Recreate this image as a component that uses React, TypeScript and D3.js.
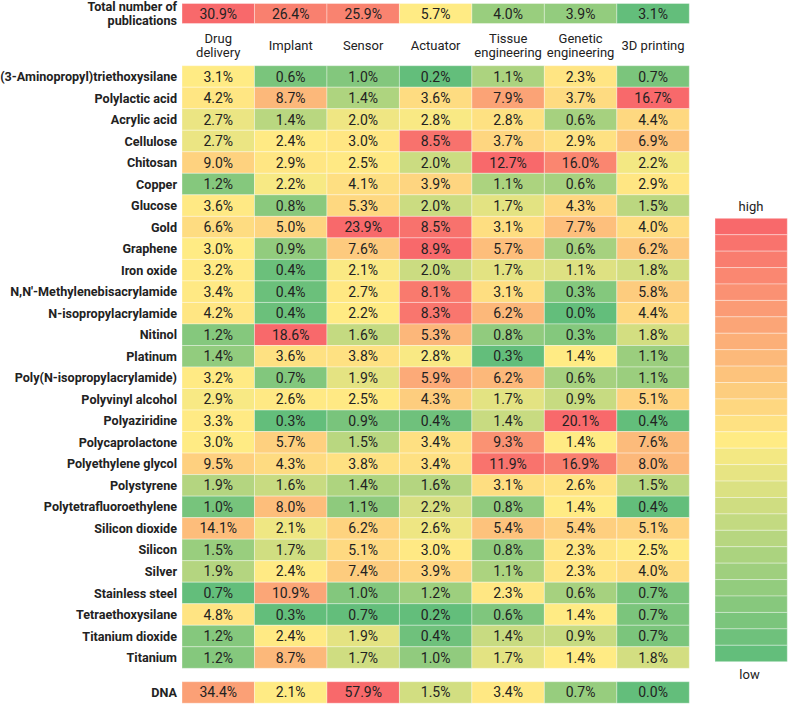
import React from "react";
import * as d3 from "d3";

const columns = ["Drug delivery", "Implant", "Sensor", "Actuator", "Tissue engineering", "Genetic engineering", "3D printing"];
const columnLabelLines = [["Drug", "delivery"], ["Implant"], ["Sensor"], ["Actuator"], ["Tissue", "engineering"], ["Genetic", "engineering"], ["3D printing"]];

const totalLabel = ["Total number of", "publications"];
const totalValues = [30.9, 26.4, 25.9, 5.7, 4.0, 3.9, 3.1];

const materials = [
  "(3-Aminopropyl)triethoxysilane", "Polylactic acid", "Acrylic acid", "Cellulose", "Chitosan", "Copper", "Glucose",
  "Gold", "Graphene", "Iron oxide", "N,N'-Methylenebisacrylamide", "N-isopropylacrylamide", "Nitinol", "Platinum",
  "Poly(N-isopropylacrylamide)", "Polyvinyl alcohol", "Polyaziridine", "Polycaprolactone", "Polyethylene glycol",
  "Polystyrene", "Polytetrafluoroethylene", "Silicon dioxide", "Silicon", "Silver", "Stainless steel",
  "Tetraethoxysilane", "Titanium dioxide", "Titanium",
];

const values: number[][] = [
  [3.1, 0.6, 1.0, 0.2, 1.1, 2.3, 0.7],
  [4.2, 8.7, 1.4, 3.6, 7.9, 3.7, 16.7],
  [2.7, 1.4, 2.0, 2.8, 2.8, 0.6, 4.4],
  [2.7, 2.4, 3.0, 8.5, 3.7, 2.9, 6.9],
  [9.0, 2.9, 2.5, 2.0, 12.7, 16.0, 2.2],
  [1.2, 2.2, 4.1, 3.9, 1.1, 0.6, 2.9],
  [3.6, 0.8, 5.3, 2.0, 1.7, 4.3, 1.5],
  [6.6, 5.0, 23.9, 8.5, 3.1, 7.7, 4.0],
  [3.0, 0.9, 7.6, 8.9, 5.7, 0.6, 6.2],
  [3.2, 0.4, 2.1, 2.0, 1.7, 1.1, 1.8],
  [3.4, 0.4, 2.7, 8.1, 3.1, 0.3, 5.8],
  [4.2, 0.4, 2.2, 8.3, 6.2, 0.0, 4.4],
  [1.2, 18.6, 1.6, 5.3, 0.8, 0.3, 1.8],
  [1.4, 3.6, 3.8, 2.8, 0.3, 1.4, 1.1],
  [3.2, 0.7, 1.9, 5.9, 6.2, 0.6, 1.1],
  [2.9, 2.6, 2.5, 4.3, 1.7, 0.9, 5.1],
  [3.3, 0.3, 0.9, 0.4, 1.4, 20.1, 0.4],
  [3.0, 5.7, 1.5, 3.4, 9.3, 1.4, 7.6],
  [9.5, 4.3, 3.8, 3.4, 11.9, 16.9, 8.0],
  [1.9, 1.6, 1.4, 1.6, 3.1, 2.6, 1.5],
  [1.0, 8.0, 1.1, 2.2, 0.8, 1.4, 0.4],
  [14.1, 2.1, 6.2, 2.6, 5.4, 5.4, 5.1],
  [1.5, 1.7, 5.1, 3.0, 0.8, 2.3, 2.5],
  [1.9, 2.4, 7.4, 3.9, 1.1, 2.3, 4.0],
  [0.7, 10.9, 1.0, 1.2, 2.3, 0.6, 0.7],
  [4.8, 0.3, 0.7, 0.2, 0.6, 1.4, 0.7],
  [1.2, 2.4, 1.9, 0.4, 1.4, 0.9, 0.7],
  [1.2, 8.7, 1.7, 1.0, 1.7, 1.4, 1.8],
];

const dnaLabel = "DNA";
const dnaValues = [34.4, 2.1, 57.9, 1.5, 3.4, 0.7, 0.0];
// whether the DNA value is part of that column's colour range
const columnRangeIncludesDNA = [true, false, false, false, false, false, false];

const legendSteps = 27;
const legendLabels = ["high", "low"];

const LOW = "#63BE7B";
const MID = "#FFEB84";
const HIGH = "#F8696B";
const FONT = "Roboto, 'Noto Sans', sans-serif";
const TEXT = "#222";

function threeColor(vals: number[]) {
  const sorted = vals.slice().sort((a, b) => a - b);
  const mn = d3.min(sorted) as number;
  const mx = d3.max(sorted) as number;
  const md = d3.quantileSorted(sorted, 0.5) as number;
  return d3.scaleLinear<string>().domain([mn, md, mx]).range([LOW, MID, HIGH]).interpolate(d3.interpolateRgb).clamp(true);
}

export default function App() {
  const W = 789, H = 704;
  const x = d3.scaleBand<string>().domain(columns).range([182, 689.3]);
  const y = d3.scaleBand<string>().domain(materials).range([65.7, 668.3]);
  const labelX = 177;
  const totalY = 3.5, totalH = 20;
  const dnaY = 681.7, dnaH = 21.5;
  const labelSize = 12.6;

  const colScales = columns.map((_, j) => {
    const v = values.map((r) => r[j]);
    if (columnRangeIncludesDNA[j]) v.push(dnaValues[j]);
    return threeColor(v);
  });
  const totalScale = threeColor(totalValues);
  const dnaScale = threeColor(dnaValues);
  const fmt = (v: number) => v.toFixed(1) + "%";

  const legY = d3.scaleBand<number>().domain(d3.range(legendSteps)).range([218.3, 661.7]);
  const legColor = d3.scaleLinear<string>().domain([0, (legendSteps - 1) / 2, legendSteps - 1]).range([HIGH, MID, LOW]).interpolate(d3.interpolateRgb);

  const cellStroke = "rgba(255,255,255,0.35)";

  return (
    <svg width={W} height={H} style={{ position: "absolute", left: 0, top: 0, background: "#fff" }} fontFamily={FONT}>
      {/* total row */}
      <text fill={TEXT} fontWeight="bold" fontSize={labelSize} textAnchor="end">
        <tspan x={labelX} y={6} dy="0.36em">{totalLabel[0]}</tspan>
        <tspan x={labelX} y={20} dy="0.36em">{totalLabel[1]}</tspan>
      </text>
      {columns.map((c, j) => (
        <g key={"t" + c}>
          <rect x={x(c)} y={totalY} width={x.bandwidth()} height={totalH} fill={totalScale(totalValues[j])} stroke={cellStroke} />
          <text x={(x(c) as number) + x.bandwidth() / 2} y={totalY + totalH / 2} dy="0.36em" textAnchor="middle" fontSize={14} fill={TEXT}>{fmt(totalValues[j])}</text>
        </g>
      ))}
      {/* column headers */}
      {columns.map((c, j) => {
        const lines = columnLabelLines[j];
        const cx = (x(c) as number) + x.bandwidth() / 2;
        const center = 45.5;
        return (
          <text key={"h" + c} textAnchor="middle" fontSize={13} fill={TEXT}>
            {lines.map((l, k) => (
              <tspan key={k} x={cx} y={center + (k - (lines.length - 1) / 2) * 14} dy="0.36em">{l}</tspan>
            ))}
          </text>
        );
      })}
      {/* main grid */}
      {materials.map((m, i) => (
        <g key={m}>
          <text x={labelX} y={(y(m) as number) + y.bandwidth() / 2} dy="0.36em" textAnchor="end" fontWeight="bold" fontSize={labelSize} fill={TEXT}>{m}</text>
          {columns.map((c, j) => (
            <g key={c}>
              <rect x={x(c)} y={y(m)} width={x.bandwidth()} height={y.bandwidth()} fill={colScales[j](values[i][j])} stroke={cellStroke} />
              <text x={(x(c) as number) + x.bandwidth() / 2} y={(y(m) as number) + y.bandwidth() / 2} dy="0.36em" textAnchor="middle" fontSize={14} fill={TEXT}>{fmt(values[i][j])}</text>
            </g>
          ))}
        </g>
      ))}
      {/* DNA row */}
      <text x={labelX} y={dnaY + dnaH / 2} dy="0.36em" textAnchor="end" fontWeight="bold" fontSize={labelSize} fill={TEXT}>{dnaLabel}</text>
      {columns.map((c, j) => (
        <g key={"d" + c}>
          <rect x={x(c)} y={dnaY} width={x.bandwidth()} height={dnaH} fill={dnaScale(dnaValues[j])} stroke={cellStroke} />
          <text x={(x(c) as number) + x.bandwidth() / 2} y={dnaY + dnaH / 2} dy="0.36em" textAnchor="middle" fontSize={14} fill={TEXT}>{fmt(dnaValues[j])}</text>
        </g>
      ))}
      {/* legend */}
      {d3.range(legendSteps).map((k) => (
        <rect key={"l" + k} x={715} y={legY(k)} width={72.3} height={legY.bandwidth()} fill={legColor(k)} stroke={cellStroke} />
      ))}
      <text x={751} y={206} dy="0.36em" textAnchor="middle" fontSize={13} fill={TEXT}>{legendLabels[0]}</text>
      <text x={749.5} y={674.5} dy="0.36em" textAnchor="middle" fontSize={13} fill={TEXT}>{legendLabels[1]}</text>
    </svg>
  );
}
